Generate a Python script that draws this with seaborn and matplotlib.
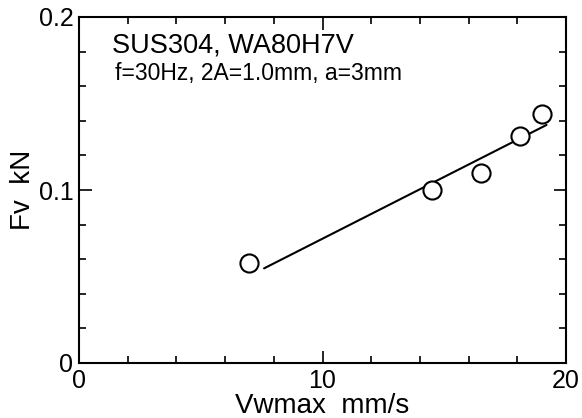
import matplotlib
matplotlib.use("Agg")
import matplotlib.pyplot as plt
import seaborn as sns
import pandas as pd
from matplotlib.ticker import MultipleLocator, FuncFormatter

sns.set_theme(style="white")
plt.rcParams['font.family'] = ['Liberation Sans', 'DejaVu Sans']
plt.rcParams['text.color'] = 'black'
plt.rcParams['axes.labelcolor'] = 'black'
plt.rcParams['xtick.color'] = 'black'
plt.rcParams['ytick.color'] = 'black'

# Data
vw = [7.0, 14.5, 16.5, 18.1, 19.0]
fv = [0.058, 0.100, 0.110, 0.131, 0.144]
fit_x = [7.6, 19.2]
fit_y = [0.0547, 0.1376]
title1 = "SUS304, WA80H7V"
title2 = "f=30Hz, 2A=1.0mm, a=3mm"
xlabel = "Vwmax  mm/s"
ylabel = "Fv  kN"

pts = pd.DataFrame({"x": vw, "y": fv})
fit = pd.DataFrame({"x": fit_x, "y": fit_y})

fig = plt.figure(figsize=(5.82, 4.18), dpi=100)
ax = fig.add_axes([79/582, 1 - 363/418, (566-79)/582, (363-17)/418])

sns.lineplot(data=fit, x="x", y="y", ax=ax, color="black", lw=1.5, zorder=2)
sns.scatterplot(data=pts, x="x", y="y", ax=ax, s=170, marker="o",
                facecolor="white", edgecolor="black", linewidth=1.5, zorder=3)

ax.set_xlim(0, 20)
ax.set_ylim(0, 0.2)
ax.xaxis.set_major_locator(MultipleLocator(10))
ax.xaxis.set_minor_locator(MultipleLocator(2))
ax.yaxis.set_major_locator(MultipleLocator(0.1))
ax.yaxis.set_minor_locator(MultipleLocator(0.02))
ax.xaxis.set_major_formatter(FuncFormatter(lambda v, p: f"{v:g}"))
ax.yaxis.set_major_formatter(FuncFormatter(lambda v, p: "0" if abs(v) < 1e-9 else f"{v:.1f}"))

ax.tick_params(which="both", direction="in", top=True, right=True, bottom=True, left=True,
               color="black", width=1.2)
ax.tick_params(which="major", length=9, labelsize=18, pad=4)
ax.tick_params(which="minor", length=5)
for s in ax.spines.values():
    s.set_color("black")
    s.set_linewidth(1.5)

ax.set_xlabel(xlabel, fontsize=20, labelpad=0)
ax.set_ylabel(ylabel, fontsize=20, labelpad=2)

fig.text(112/582, 1 - 53/418, title1, fontsize=19.5, va="baseline", ha="left")
fig.text(115/582, 1 - 80/418, title2, fontsize=16.5, va="baseline", ha="left")

fig.savefig("out.png", dpi=100)
